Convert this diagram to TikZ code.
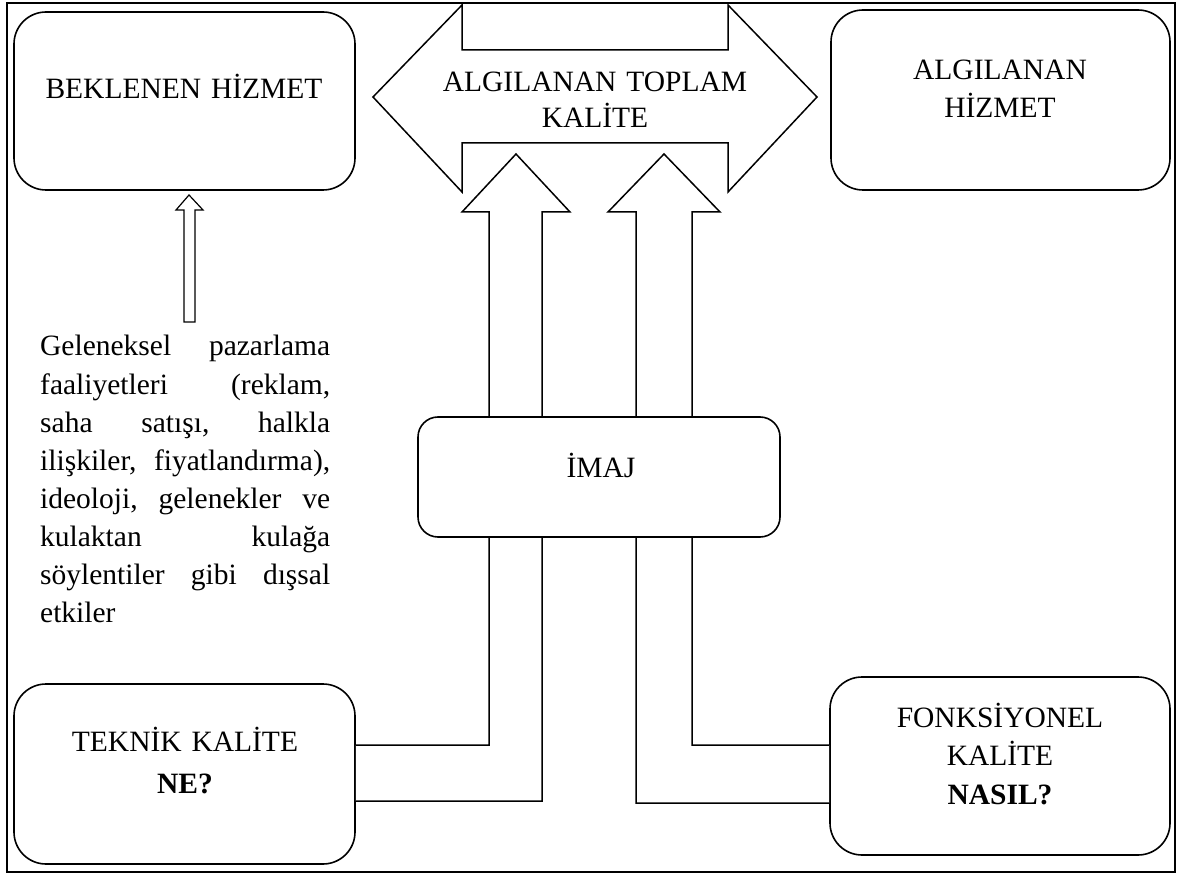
\documentclass[tikz,border=0pt]{standalone}
\usepackage{fontspec}
\setmainfont{Liberation Serif}
\begin{document}
\begin{tikzpicture}[x=1pt,y=-1pt,line join=miter,
  box/.style={draw,line width=1.6pt,fill=white,rounded corners=32pt,inner sep=0pt},
  smallbox/.style={box,rounded corners=20pt},
  blockarrow/.style={draw,line width=1.5pt,fill=white},
  label/.style={anchor=base,inner sep=0pt,text width=320pt,align=center},
  bodyfont/.style={font=\fontsize{29.5}{#1}\selectfont}]
\useasboundingbox (0,0) rectangle (1178,874);
% outer frame
\draw[line width=1.6pt] (7,3) rectangle (1175,872);

% double-headed arrow for the total perceived quality
\draw[blockarrow] (373,97) -- (462,5) -- (462,50) -- (728,50) -- (728,5)
  -- (817,97) -- (728,192) -- (728,143) -- (462,143) -- (462,192) -- cycle;
\node[label,bodyfont=36] (total) at (595,92) {ALGILANAN TOPLAM\\KALİTE};

% boxes
\node[box,minimum width=341pt,minimum height=178pt] (bek) at (184.5,101) {};
\node[box,minimum width=339pt,minimum height=180pt] (alg) at (1000.5,100) {};
\node[box,minimum width=341pt,minimum height=180pt] (tek) at (184.5,774) {};
\node[box,minimum width=340pt,minimum height=178pt] (fonk) at (1000,766) {};

% bent block arrows from the two quality boxes up to the total quality
\draw[blockarrow] (tek.east |- 0,801) -- (542,801) -- (542,212) -- (570,212)
  -- (516,154) -- (462,212) -- (489,212) -- (489,745) -- (tek.east |- 0,745);
\draw[blockarrow] (fonk.west |- 0,803) -- (636,803) -- (636,212) -- (608,212)
  -- (664,154) -- (720,212) -- (692,212) -- (692,745) -- (fonk.west |- 0,745);

% image box drawn over the arrow shafts
\node[smallbox,minimum width=362pt,minimum height=120pt] (imaj) at (599,477) {};

% thin arrow from the external influences up to the expected service
\draw[line width=1.2pt,fill=white] (189,195) -- (203,210) -- (195,210) -- (195,322)
  -- (184,322) -- (184,210) -- (176,210) -- cycle;

% labels
\node[label,bodyfont=36] (bekt) at (184,99) {BEKLENEN HİZMET};
\node[label,bodyfont=38] (algt) at (1000,80) {ALGILANAN\\HİZMET};
\node[label,bodyfont=36] (imajt) at (601,477) {İMAJ};
\node[label,bodyfont=42] (tekt) at (185,751) {TEKNİK KALİTE\\\textbf{NE?}};
\node[label,bodyfont=38.5] (fonkt) at (1000,727) {FONKSİYONEL\\KALİTE\\\textbf{NASIL?}};

% external influences, justified line by line
\node[anchor=base west,inner sep=0pt,text width=290pt,bodyfont=38.1] (ext) at (40,356) {%
\hbox to 290pt{Geleneksel\hfill pazarlama}
\hbox to 290pt{faaliyetleri\hfill (reklam,}
\hbox to 290pt{saha\hfill satışı,\hfill halkla}
\hbox to 290pt{ilişkiler,\hfill fiyatlandırma),}
\hbox to 290pt{ideoloji,\hfill gelenekler\hfill ve}
\hbox to 290pt{kulaktan\hfill kulağa}
\hbox to 290pt{söylentiler\hfill gibi\hfill dışsal}
\hbox to 290pt{etkiler\hfill}};
\end{tikzpicture}
\end{document}
